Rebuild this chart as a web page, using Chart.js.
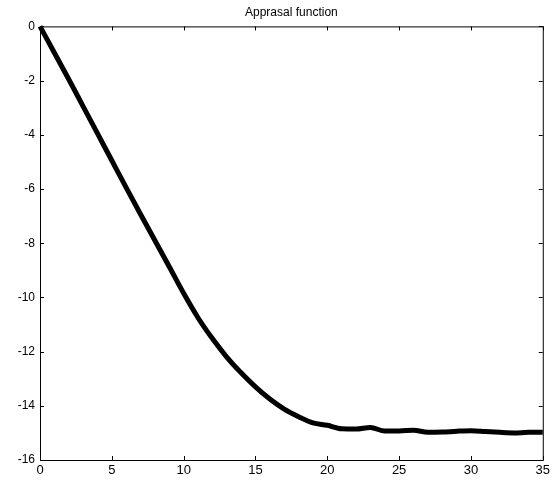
<!DOCTYPE html>
<html lang="en">
<head>
  <meta charset="UTF-8"/>
  <title>Apprasal function</title>
  <script src="https://cdn.jsdelivr.net/npm/chart.js"></script>
  <style>
    html, body {
      margin: 0;
      padding: 0;
      background: #fff;
    }
    .wrap {
      width: 553px;
      height: 480px;
    }
  </style>
</head>
<body>
  <div class="wrap"><canvas id="appraisal"></canvas></div>

  <script>
    // values
    const steps = [0, 1, 2, 3, 4, 5, 6, 7, 8, 9, 10, 11, 12, 13, 14, 15, 16, 17, 18,
                   19, 20, 21, 22, 23, 24, 25, 26, 27, 28, 29, 30, 31, 32, 33, 34, 35];
    const appraisal = [0, -0.97, -1.95, -2.95, -3.95, -4.95, -5.95, -6.93, -7.9, -8.87,
                       -9.85, -10.75, -11.52, -12.2, -12.78, -13.3, -13.75, -14.12, -14.4,
                       -14.63, -14.72, -14.85, -14.86, -14.8, -14.93, -14.93, -14.9, -14.98,
                       -14.97, -14.94, -14.92, -14.95, -14.98, -15.0, -14.98, -14.98];
    const xTicks = [0, 5, 10, 15, 20, 25, 30, 35];
    const yTicks = [0, -2, -4, -6, -8, -10, -12, -14, -16];

    const font = "'Liberation Sans', Arial, sans-serif";

    // matlab style box with ticks pointing inward
    const boxTicks = {
      id: 'boxTicks',
      afterDraw(chart) {
        const { ctx, chartArea: a, scales } = chart;
        const len = 4;
        ctx.save();
        ctx.strokeStyle = '#000';
        ctx.lineWidth = 1;
        ctx.strokeRect(a.left + 0.5, a.top + 0.5, a.right - a.left, a.bottom - a.top);
        ctx.beginPath();
        xTicks.forEach(v => {
          const px = Math.round(scales.x.getPixelForValue(v)) + 0.5;
          ctx.moveTo(px, a.bottom); ctx.lineTo(px, a.bottom - len);
          ctx.moveTo(px, a.top); ctx.lineTo(px, a.top + len);
        });
        yTicks.forEach(v => {
          const py = Math.round(scales.y.getPixelForValue(v)) + 0.5;
          ctx.moveTo(a.left, py); ctx.lineTo(a.left + len, py);
          ctx.moveTo(a.right, py); ctx.lineTo(a.right - len, py);
        });
        ctx.stroke();
        ctx.restore();
      }
    };

    new Chart(document.getElementById('appraisal'), {
      type: 'line',
      data: {
        datasets: [{
          data: steps.map((s, i) => ({ x: s, y: appraisal[i] })),
          borderColor: '#000',
          borderWidth: 5,
          pointRadius: 0,
          cubicInterpolationMode: 'monotone',
          clip: false
        }]
      },
      options: {
        responsive: true,
        maintainAspectRatio: false,
        animation: false,
        layout: { padding: { left: 0, right: 7, top: 0, bottom: 0 } },
        plugins: {
          legend: { display: false },
          tooltip: { enabled: false },
          title: {
            display: true,
            text: 'Apprasal function',
            fullSize: false,
            color: '#000',
            font: { family: font, size: 12, weight: 'normal' },
            padding: { top: 5, bottom: 7 }
          }
        },
        scales: {
          x: {
            type: 'linear',
            min: 0,
            max: 35,
            afterBuildTicks: s => { s.ticks = xTicks.map(v => ({ value: v })); },
            afterFit: s => { s.height = 20; },
            grid: { drawOnChartArea: false, drawTicks: false },
            border: { display: false },
            ticks: {
              color: '#000',
              padding: 3,
              maxRotation: 0,
              font: { family: font, size: 13 }
            }
          },
          y: {
            type: 'linear',
            min: -16,
            max: 0,
            afterBuildTicks: s => { s.ticks = yTicks.map(v => ({ value: v })); },
            afterFit: s => { s.width = 40; },
            grid: { drawOnChartArea: false, drawTicks: false },
            border: { display: false },
            ticks: {
              color: '#000',
              padding: 5,
              font: { family: font, size: 12 }
            }
          }
        }
      },
      plugins: [boxTicks]
    });
  </script>
</body>
</html>
